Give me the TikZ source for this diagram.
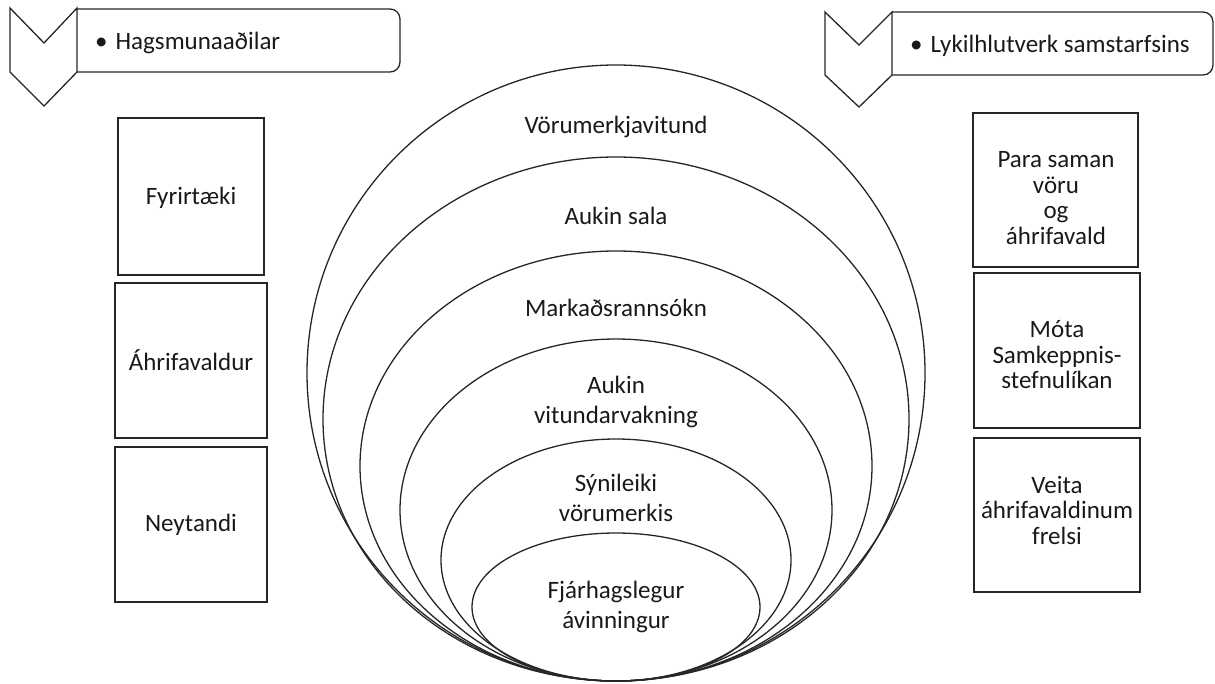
\documentclass[tikz,border=0pt]{standalone}
\usepackage{fontspec}
\setmainfont{Carlito}
\begin{document}
\begin{tikzpicture}[x=1pt,y=-1pt,
  line/.style={draw=black!85, line width=1.3pt},
  txt/.style={font=\fontsize{25}{30.5}\selectfont, align=center, text=black!90, inner sep=0pt},
  rtxt/.style={font=\fontsize{25}{25.5}\selectfont, align=center, text=black!90, inner sep=0pt},
  box/.style={line, rectangle, inner sep=0pt}]
\useasboundingbox (0,0) rectangle (1215,683);
% header left
\draw[line, line join=miter] (10,8) -- (44,43) -- (77,8) -- (77,72) -- (44,106) -- (10,72) -- cycle;
\draw[line, rounded corners=10pt] (77,9) -- (400,9) -- (400,72) -- (77,72);
\node[txt, anchor=base west] (h1) at (95,49) {•\hspace{8pt}Hagsmunaaðilar};
% header right
\draw[line, line join=miter] (825,12) -- (859,45) -- (892,12) -- (892,75) -- (859,107) -- (825,75) -- cycle;
\draw[line, rounded corners=10pt] (892,12) -- (1213,12) -- (1213,75) -- (892,75);
\node[txt, anchor=base west] (h2) at (910,52) {•\hspace{8pt}Lykilhlutverk samstarfsins};
% left boxes
\node[box, minimum width=146pt, minimum height=157pt] (b1) at (191,196.5) {};
\node[txt] (t1) at (191,198) {Fyrirtæki};
\node[box, minimum width=152pt, minimum height=155pt] (b2) at (191,360.5) {};
\node[txt] (t2) at (191,360) {Áhrifavaldur};
\node[box, minimum width=152pt, minimum height=155pt] (b3) at (191,524.5) {};
\node[txt] (t3) at (191,525) {Neytandi};
% right boxes
\node[box, minimum width=165pt, minimum height=154pt] (r1) at (1055.5,190) {};
\node[rtxt] (s1) at (1056,198) {Para saman\\vöru\\og\\áhrifavald};
\node[box, minimum width=166pt, minimum height=155pt] (r2) at (1057,350.5) {};
\node[rtxt] (s2) at (1057,355) {Móta\\Samkeppnis-\\stefnulíkan};
\node[box, minimum width=166pt, minimum height=154pt] (r3) at (1057,515) {};
\node[rtxt] (s3) at (1057,510) {Veita\\áhrifavaldinum\\frelsi};
% ellipses
\draw[line] (616,373) ellipse [x radius=309, y radius=308];
\draw[line] (616,419) ellipse [x radius=293, y radius=262];
\draw[line] (616,466) ellipse [x radius=256, y radius=215];
\draw[line] (616,510) ellipse [x radius=216, y radius=171];
\draw[line] (616,560) ellipse [x radius=175, y radius=121];
\draw[line] (616,607) ellipse [x radius=144, y radius=74];
\node[txt] (e1) at (616,127) {Vörumerkjavitund};
\node[txt] (e2) at (616,216) {Aukin sala};
\node[txt] (e3) at (616,308) {Markaðsrannsókn};
\node[txt] (e4) at (616,402) {Aukin\\vitundarvakning};
\node[txt] (e5) at (616,498) {Sýnileiki\\vörumerkis};
\node[txt] (e6) at (616,607) {Fjárhagslegur\\ávinningur};
\end{tikzpicture}
\end{document}
